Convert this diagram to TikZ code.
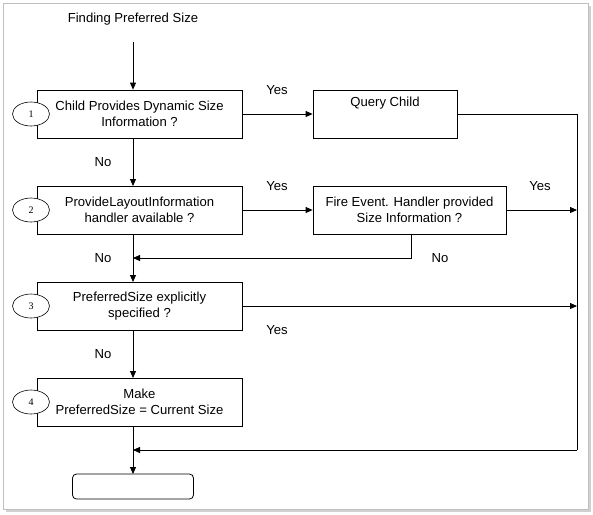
\documentclass[tikz,border=0pt]{standalone}
\usepackage{fontspec}
\setmainfont{Liberation Sans}
\newfontfamily\numfont{Liberation Serif}
\usetikzlibrary{arrows.meta,shapes.geometric,shadows}
\begin{document}
\begin{tikzpicture}[x=1pt,y=-1pt,
  every node/.style={font=\fontsize{13.1}{16}\selectfont},
  boxst/.style={draw, line width=0.8pt, align=center, inner sep=0pt},
  numst/.style={draw, ellipse, fill=white, line width=0.6pt, minimum width=37pt, minimum height=24pt, inner sep=0pt, font=\numfont\fontsize{10}{10}\selectfont},
  lbl/.style={inner sep=0pt},
  arr/.style={line width=0.8pt, -{Triangle[length=7pt,width=6pt]}},
  ln/.style={line width=0.8pt}]
\useasboundingbox (0,0) rectangle (593,514);
% frame
\fill[black!18] (6,6) rectangle (591,512);
\fill[white,draw=black!25, line width=0.6pt] (3,3) rectangle (588,509);
% title
\node[lbl] (title) at (133,19) {Finding Preferred Size};
\coordinate (start) at (133,42);
% boxes
\node[boxst, minimum width=205pt, minimum height=48pt] (b1) at (139.5,114) {Child Provides Dynamic Size\\Information ?};
\node[boxst, minimum width=205pt, minimum height=48pt] (b2) at (139.5,210) {ProvideLayoutInformation\\handler available ?};
\node[boxst, minimum width=205pt, minimum height=48pt] (b3) at (139.5,306) {PreferredSize explicitly\\specified ?};
\node[boxst, minimum width=205pt, minimum height=48pt] (b4) at (139.5,402) {Make\\PreferredSize = Current Size};
\node[boxst, minimum width=144pt, minimum height=48pt] (qc) at (385,114) {};
\node[lbl] (qct) at (385,103) {Query Child};
\node[boxst, minimum width=193pt, minimum height=48pt] (fe) at (409.5,210) {Fire Event. Handler provided\\Size Information ?};
\node[draw, line width=0.8pt, rounded corners=4pt, minimum width=121pt, minimum height=25pt] (endb) at (133,486.5) {};
% numbers
\node[numst] (n1) at (31,114) {1};
\node[numst] (n2) at (31,210) {2};
\node[numst] (n3) at (31,306) {3};
\node[numst] (n4) at (31,402) {4};
% helper coordinates
\coordinate (c1) at (133,138);
\coordinate (c1b) at (133,186);
\coordinate (c2) at (133,234);
\coordinate (c2b) at (133,282);
\coordinate (c3) at (133,330);
\coordinate (c3b) at (133,378);
\coordinate (c4) at (133,426);
\coordinate (c4b) at (133,474);
\coordinate (mj) at (133,258);
\coordinate (bj) at (133,450);
\coordinate (rtop) at (577,114);
\coordinate (rfe) at (577,210);
\coordinate (rb3) at (577,306);
\coordinate (rbot) at (577,450);
\coordinate (feb) at (411,234);
\coordinate (febl) at (411,258);
% connectors
\draw[arr] (start) -- (c1b |- b1.north);
\draw[arr] (c1) -- (c1b);
\draw[arr] (c2) -- (c2b);
\draw[arr] (c3) -- (c3b);
\draw[arr] (c4) -- (c4b);
\draw[arr] (b1.east) -- (qc.west);
\draw[arr] (b2.east) -- (fe.west);
\draw[ln] (qc.east) -- (rtop) -- (rbot);
\draw[arr] (fe.east) -- (rfe);
\draw[arr] (b3.east) -- (rb3);
\draw[arr] (rbot) -- (bj);
\draw[arr] (feb) -- (febl) -- (mj);
% labels
\node[lbl] (y1) at (277,90) {Yes};
\node[lbl] (y2) at (277,186) {Yes};
\node[lbl] (y3) at (540,186) {Yes};
\node[lbl] (y4) at (277,330) {Yes};
\node[lbl] (no1) at (103,162) {No};
\node[lbl] (no2) at (103,258) {No};
\node[lbl] (no3) at (440,258) {No};
\node[lbl] (no4) at (103,354) {No};
\end{tikzpicture}
\end{document}
